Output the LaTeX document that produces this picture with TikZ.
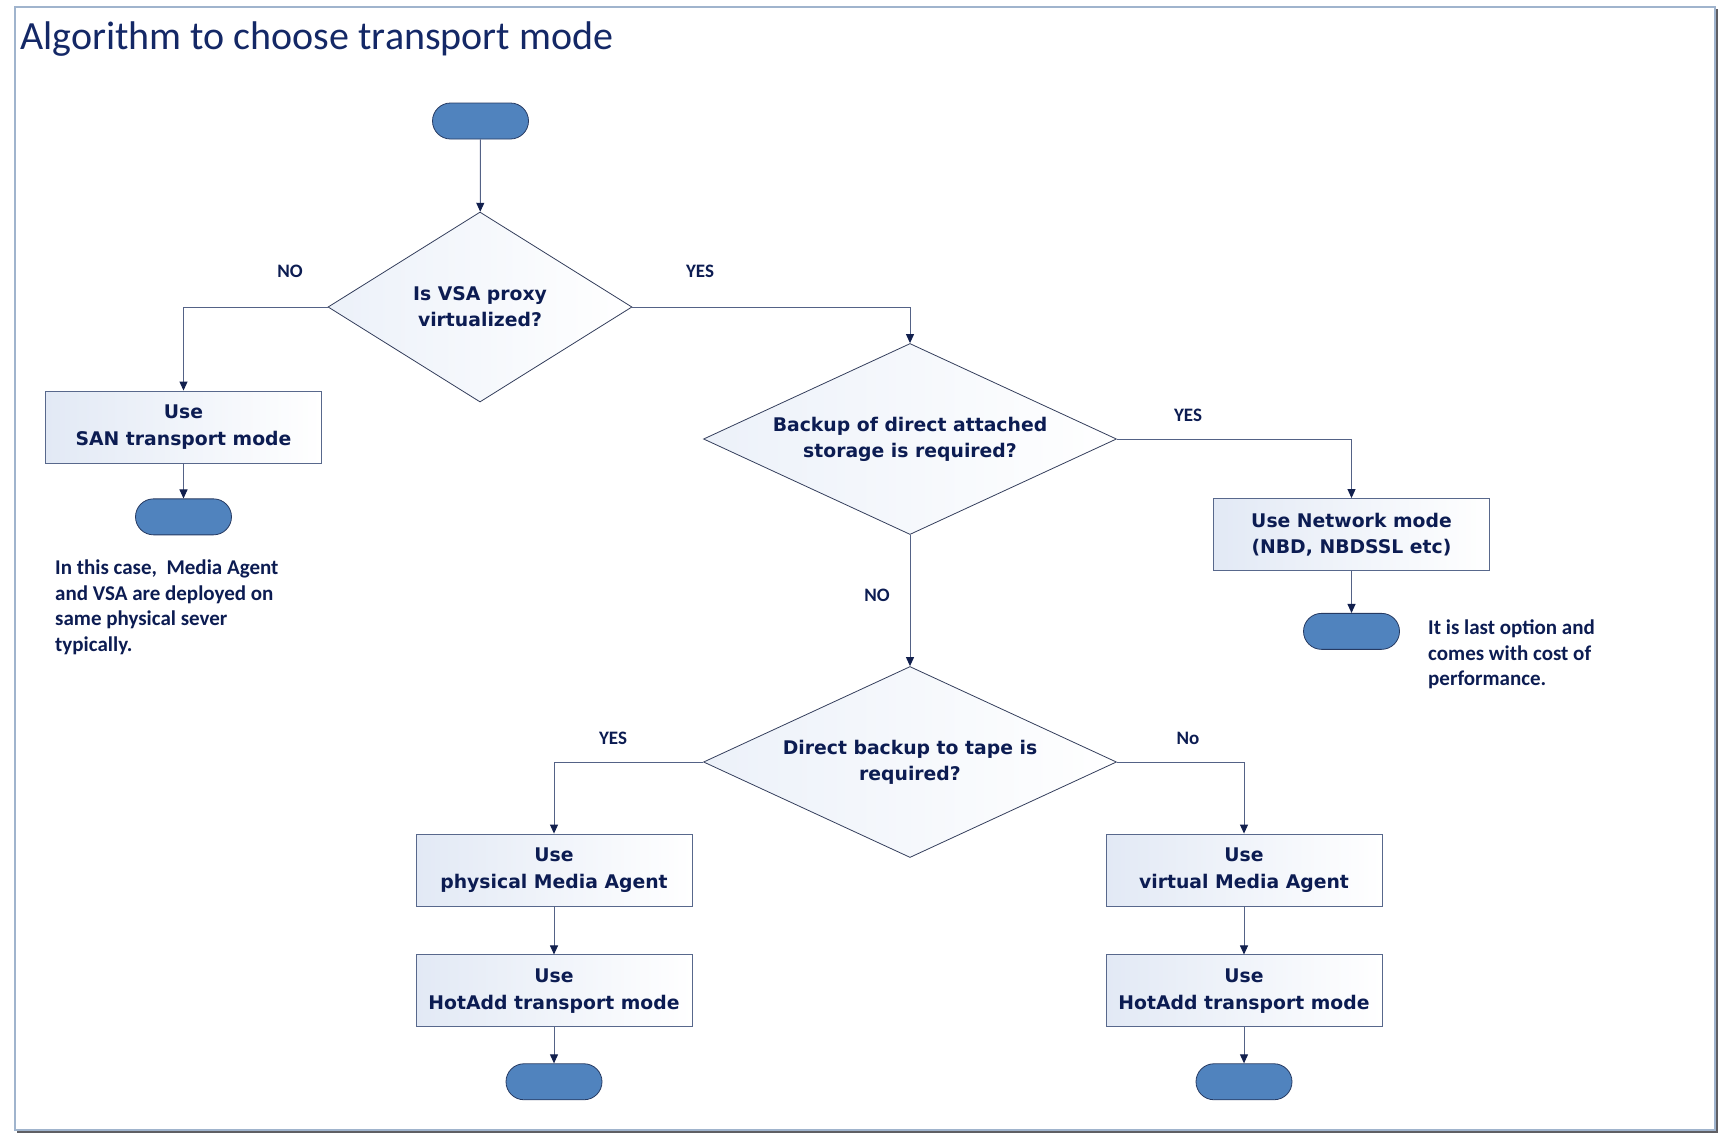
\documentclass[tikz,border=0pt]{standalone}
\usepackage{fontspec}
\setmainfont{Carlito}
\newfontfamily\boxfont{DejaVu Sans}
\usepackage{xcolor}
\usepackage{tikz}
\usetikzlibrary{positioning, shapes.geometric, arrows.meta}

\definecolor{termblue}{RGB}{80,131,190}
\definecolor{termedge}{RGB}{38,58,98}
\definecolor{boxedge}{RGB}{88,104,140}
\definecolor{diamedge}{RGB}{52,62,92}
\definecolor{boxtint}{RGB}{226,233,245}
\definecolor{diamtint}{RGB}{236,241,249}
\definecolor{navytext}{RGB}{12,28,82}
\definecolor{titlenavy}{RGB}{20,40,102}
\definecolor{linecol}{RGB}{84,98,134}
\definecolor{tipcol}{RGB}{18,32,78}
\definecolor{framecol}{RGB}{160,180,205}
\definecolor{shadowgray}{RGB}{95,95,100}

\begin{document}
\begin{tikzpicture}[x=1pt, y=-1pt, terminal/.style={rectangle, draw=termedge, fill=termblue, line width=0.8pt, minimum width=96pt, minimum height=36pt, rounded corners=18pt}, process/.style={rectangle, draw=boxedge, left color=boxtint, right color=white, line width=0.9pt, minimum width=276pt, minimum height=72pt, inner sep=0pt, align=center, text=navytext, font=\boxfont\bfseries\fontsize{18.8}{26.5}\selectfont}, decision/.style={diamond, draw=diamedge, left color=diamtint, right color=white, line width=0.8pt, inner sep=0pt, align=center, text=navytext, font=\boxfont\bfseries\fontsize{18.8}{26}\selectfont}, answer/.style={inner sep=0pt, text=navytext, font=\bfseries\fontsize{19}{22}\selectfont}, remark/.style={anchor=north west, inner sep=0pt, align=left, text=navytext, font=\bfseries\fontsize{21}{25.5}\selectfont}, flow/.style={draw=linecol, line width=1pt, -{Triangle[length=9pt, width=8pt, color=tipcol]}}]

    \useasboundingbox (0,0) rectangle (1720,1136);

    % Frame
    \draw[shadowgray, line width=3pt] (1716.5,9) -- (1716.5,1131.5) -- (17,1131.5);
    \draw[framecol, line width=1.2pt] (15,7) rectangle (1715,1130);
    \node[anchor=base west, inner sep=0pt, text=titlenavy, font=\fontsize{40}{48}\selectfont] (title) at (20,49) {Algorithm to choose transport mode};

    % Nodes
    \node[terminal] (start)                         at (480.5,121)  {};
    \node[decision, aspect=1.6, minimum width=304pt, minimum height=190pt] (proxy) at (480,307) {Is VSA proxy\\virtualized?};
    \node[process]  (san)                           at (183.5,427)  {Use\\SAN transport mode};
    \node[terminal] (sanend)    [below=35pt of san]                 {};
    \node[decision, aspect=2.16, minimum width=413pt, minimum height=191pt] (das) at (910,439) {Backup of direct attached\\storage is required?};
    \node[process]  (network)                       at (1351.5,534.5) {Use Network mode\\(NBD, NBDSSL etc)};
    \node[terminal] (netend)    [below=42pt of network]             {};
    \node[decision, aspect=2.16, minimum width=413pt, minimum height=191pt] (tape) at (910,762) {Direct backup to tape is\\required?};
    \node[process]  (physical)                      at (554,870)    {Use\\physical Media Agent};
    \node[process]  (virtual)                       at (1244,870)   {Use\\virtual Media Agent};
    \node[process]  (hotphys)   [below=48pt of physical]            {Use\\HotAdd transport mode};
    \node[process]  (hotvirt)   [below=48pt of virtual]             {Use\\HotAdd transport mode};
    \node[terminal] (physend)   [below=36pt of hotphys]             {};
    \node[terminal] (virtend)   [below=36pt of hotvirt]             {};

    % Labels
    \node[answer] (proxyno)   at (290,271)  {NO};
    \node[answer] (proxyyes)  at (700,271)  {YES};
    \node[answer] (dasyes)    at (1188,415) {YES};
    \node[answer] (dasno)     at (877,595)  {NO};
    \node[answer] (tapeyes)   at (613,738)  {YES};
    \node[answer] (tapeno)    at (1188,738) {No};
    \node[remark] (sannote)   at (55,560)   {In this case,~ Media Agent\\and VSA are deployed on\\same physical sever\\typically.};
    \node[remark] (netnote)   at (1428,620) {It is last option and\\comes with cost of\\performance.};

    % Lines ---------------
    \draw[flow] (start) -- (proxy);
    \draw[flow] (proxy.west) -| (san.north);
    \draw[flow] (san) -- (sanend);
    \draw[flow] (proxy.east) -| (das.north);
    \draw[flow] (das.east) -| (network.north);
    \draw[flow] (network) -- (netend);
    \draw[flow] (das) -- (tape);
    \draw[flow] (tape.west) -| (physical.north);
    \draw[flow] (tape.east) -| (virtual.north);
    \draw[flow] (physical) -- (hotphys);
    \draw[flow] (virtual) -- (hotvirt);
    \draw[flow] (hotphys) -- (physend);
    \draw[flow] (hotvirt) -- (virtend);

\end{tikzpicture}
\end{document}
